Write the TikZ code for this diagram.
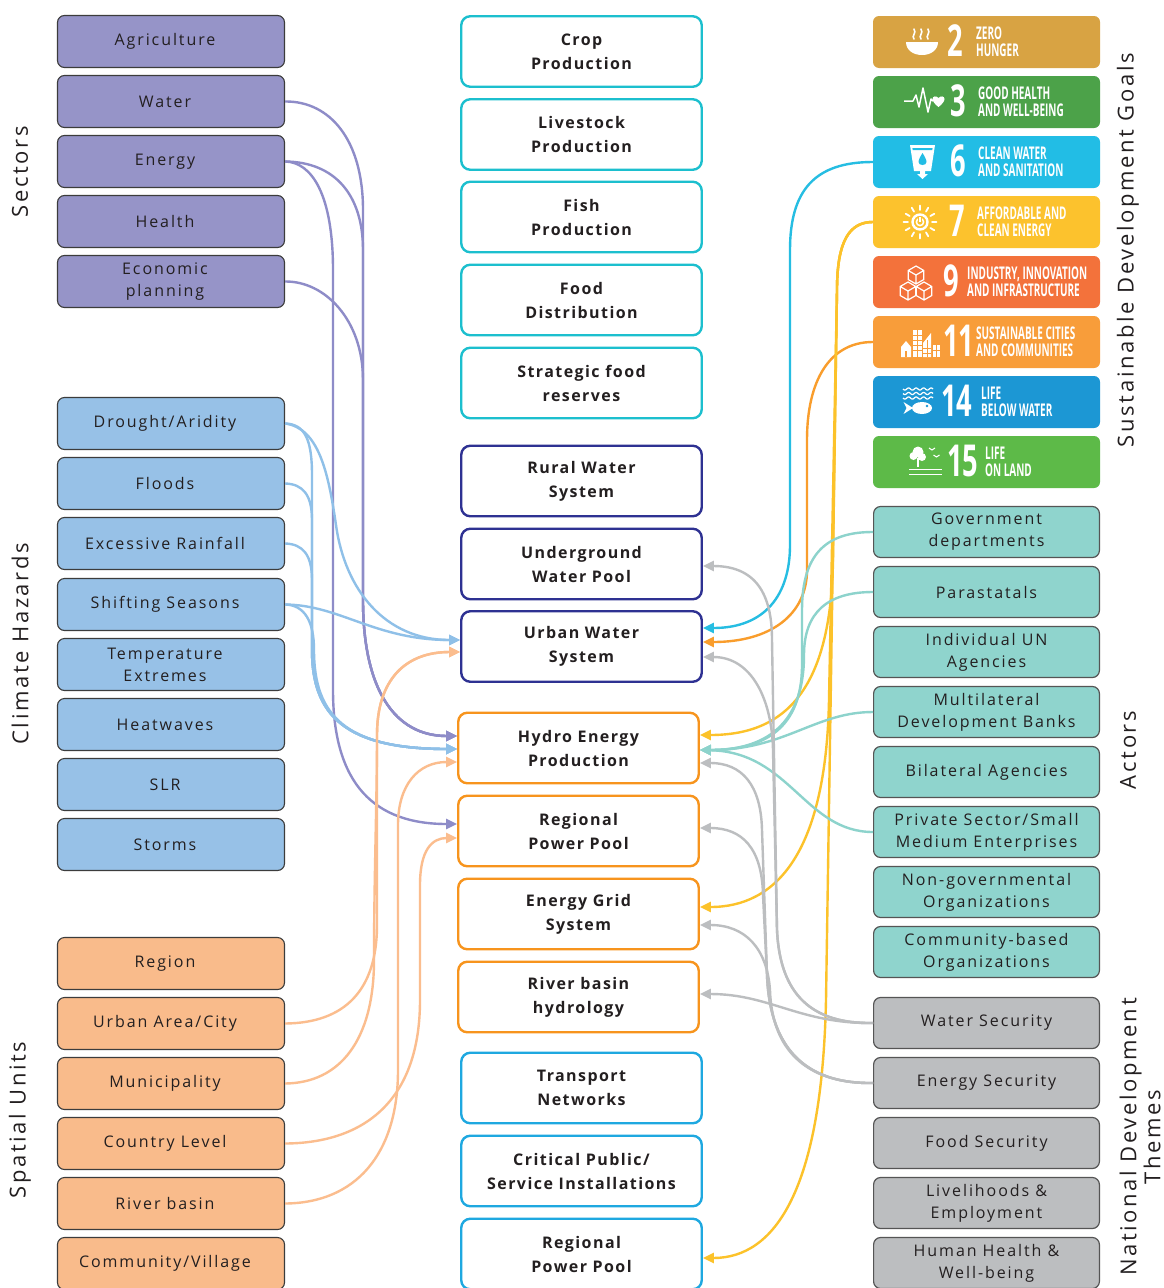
\documentclass[tikz,border=0pt]{standalone}
\usepackage{fontspec}
\setmainfont{Open Sans}[LetterSpace=12, BoldFeatures={LetterSpace=9}]
\newfontfamily\sdgf{Open Sans}
\usepackage{graphicx}
\usetikzlibrary{arrows.meta,calc}
\definecolor{txt}{HTML}{231F20}
\definecolor{edge}{HTML}{3C3C3C}
\definecolor{redge}{HTML}{555555}
\definecolor{sectc}{HTML}{9694C8}
\definecolor{hazc}{HTML}{97C1E7}
\definecolor{spatc}{HTML}{F9BB8B}
\definecolor{foodc}{HTML}{1CBFCE}
\definecolor{waterc}{HTML}{2E3192}
\definecolor{energyc}{HTML}{F7941D}
\definecolor{infrac}{HTML}{1EA8E0}
\definecolor{actc}{HTML}{8FD4CD}
\definecolor{themec}{HTML}{BCBEC0}
\definecolor{sdgtwoc}{HTML}{D8A343}
\definecolor{sdgthreec}{HTML}{4CA249}
\definecolor{sdgsixc}{HTML}{22BDE5}
\definecolor{sdgsevenc}{HTML}{FCC22D}
\definecolor{sdgninec}{HTML}{F3723B}
\definecolor{sdgelevenc}{HTML}{F89D3A}
\definecolor{sdgfourteenc}{HTML}{1C97D4}
\definecolor{sdgfifteenc}{HTML}{5DBA48}
\definecolor{lpurple}{HTML}{8E8CC8}
\definecolor{lblue}{HTML}{8FC0E8}
\definecolor{lorange}{HTML}{FBBD8E}
\definecolor{lsix}{HTML}{26BDE2}
\definecolor{leleven}{HTML}{F99D2C}
\definecolor{lseven}{HTML}{FCC22A}
\definecolor{lteal}{HTML}{8DD3CC}
\definecolor{lgray}{HTML}{BCBEC0}
\newcommand\lsh{\hspace*{-12pt}}
\newcommand\sdgt[1]{\scalebox{0.57}[1]{\sdgf\bfseries\fontsize{17.5}{17.5}\selectfont #1}}
\newcommand\sdgn[1]{\scalebox{0.62}[1]{\sdgf\bfseries\fontsize{44}{44}\selectfont #1}}
\begin{document}
\begin{tikzpicture}[x=1pt,y=-1pt,
  lbox/.style={rectangle, rounded corners=7pt, draw=edge, line width=1.1pt, minimum width=227pt, minimum height=52pt, inner sep=0pt, align=center, text=txt, font=\fontsize{16}{22}\selectfont},
  sector/.style={lbox, fill=sectc},
  hazard/.style={lbox, fill=hazc},
  spatial/.style={lbox, fill=spatc},
  mbox/.style={rectangle, rounded corners=9pt, line width=2.4pt, fill=white, minimum width=240.5pt, minimum height=70.5pt, inner sep=0pt, align=center, text=txt, font=\fontsize{16}{24}\selectfont\bfseries},
  foodbox/.style={mbox, draw=foodc},
  waterbox/.style={mbox, draw=waterc},
  energybox/.style={mbox, draw=energyc},
  infrabox/.style={mbox, draw=infrac},
  rbox/.style={rectangle, rounded corners=7pt, draw=redge, line width=1.2pt, minimum width=225.8pt, minimum height=51pt, inner sep=0pt, align=center, text=txt, font=\fontsize{16}{22}\selectfont},
  actor/.style={rbox, fill=actc},
  theme/.style={rbox, fill=themec},
  sdgbox/.style={rectangle, rounded corners=6pt, minimum width=227pt, minimum height=52pt, inner sep=0pt},
  sdglab/.style={anchor=base west, inner sep=0pt, text=white},
  side/.style={inner sep=0pt, text=txt, font=\fontsize{22}{24}\selectfont},
  conn/.style={line width=2.4pt, -{Triangle[length=11pt,width=10pt]}},
  cpurple/.style={conn, draw=lpurple},
  cblue/.style={conn, draw=lblue},
  corange/.style={conn, draw=lorange},
  csix/.style={conn, draw=lsix},
  celeven/.style={conn, draw=leleven},
  cseven/.style={conn, draw=lseven},
  cteal/.style={conn, draw=lteal},
  cgray/.style={conn, draw=lgray},
  icon/.style={white, line width=1.5pt},
  cubeicon/.pic={\draw[white, line width=1.2pt, line join=round] (0,-1) -- (0.87,-0.5) -- (0.87,0.5) -- (0,1) -- (-0.87,0.5) -- (-0.87,-0.5) -- cycle (-0.87,-0.5) -- (0,0) -- (0.87,-0.5) (0,0) -- (0,1);}
]
\fill[white] (0,0) rectangle (1163,1288);
\useasboundingbox (0,0) rectangle (1163,1288);

% side labels
\node[side, rotate=90] (lsect) at (20,172) {Sectors};
\node[side, rotate=90] (lhaz) at (20,644) {Climate Hazards};
\node[side, rotate=90] (lspat) at (20,1120) {Spatial Units};
\node[side, rotate=90] (lsdg) at (1128,250) {Sustainable Development Goals};
\node[side, rotate=90] (lact) at (1128,750) {Actors};
\node[side, rotate=90, align=center] (lndt) at (1140,1137) {National Development\\Themes};

% sectors
\node[sector] (agri) at (171,41.5) {\lsh Agriculture};
\node[sector] (water) at (171,101.5) {\lsh Water};
\node[sector] (energy) at (171,161.5) {\lsh Energy};
\node[sector] (health) at (171,221.5) {\lsh Health};
\node[sector] (econ) at (171,281.5) {\lsh Economic\\\lsh planning};
% hazards
\node[hazard] (drought) at (171,423.5) {\lsh Drought/Aridity};
\node[hazard] (floods) at (171,483.5) {\lsh Floods};
\node[hazard] (rain) at (171,543.5) {\lsh Excessive Rainfall};
\node[hazard] (shift) at (171,604.5) {\lsh Shifting Seasons};
\node[hazard] (temp) at (171,664.5) {\lsh Temperature\\\lsh Extremes};
\node[hazard] (heat) at (171,724.5) {\lsh Heatwaves};
\node[hazard] (slr) at (171,784.5) {\lsh SLR};
\node[hazard] (storms) at (171,844.5) {\lsh Storms};
% spatial
\node[spatial] (region) at (171,963.5) {\lsh Region};
\node[spatial] (urban) at (171,1023.5) {\lsh Urban Area/City};
\node[spatial] (muni) at (171,1083.5) {\lsh Municipality};
\node[spatial] (country) at (171,1143.5) {\lsh Country Level};
\node[spatial] (river) at (171,1203.5) {\lsh River basin};
\node[spatial] (village) at (171,1263.5) {\lsh Community/Village};

% middle
\node[foodbox] (crop) at (581.5,51.5) {Crop\\Production};
\node[foodbox] (livestock) at (581.5,134.5) {Livestock\\Production};
\node[foodbox] (fish) at (581.5,217) {Fish\\Production};
\node[foodbox] (fooddist) at (581.5,300) {Food\\Distribution};
\node[foodbox] (reserves) at (581.5,383) {Strategic food\\reserves};
\node[waterbox] (rural) at (581.5,481) {Rural Water\\System};
\node[waterbox] (under) at (581.5,564) {Underground\\Water Pool};
\node[waterbox] (uws) at (581.5,646.5) {Urban Water\\System};
\node[energybox] (hydro) at (578.5,748) {Hydro Energy\\Production};
\node[energybox] (rpp) at (578.5,831) {Regional\\Power Pool};
\node[energybox] (grid) at (578.5,914) {Energy Grid\\System};
\node[energybox] (rbh) at (578.5,997) {River basin\\hydrology};
\node[infrabox] (transport) at (581.5,1088) {Transport\\Networks};
\node[infrabox] (critical) at (581.5,1171) {Critical Public/\\Service Installations};
\node[infrabox] (rppb) at (581.5,1254) {Regional\\Power Pool};

% SDG boxes
\node[sdgbox, fill=sdgtwoc] (sdgtwo) at (986.5,42) {};
\node[sdgbox, fill=sdgthreec] (sdgthree) at (986.5,102) {};
\node[sdgbox, fill=sdgsixc] (sdgsix) at (986.5,162) {};
\node[sdgbox, fill=sdgsevenc] (sdgseven) at (986.5,222) {};
\node[sdgbox, fill=sdgninec] (sdgnine) at (986.5,282) {};
\node[sdgbox, fill=sdgelevenc] (sdgeleven) at (986.5,342) {};
\node[sdgbox, fill=sdgfourteenc] (sdgfourteen) at (986.5,402) {};
\node[sdgbox, fill=sdgfifteenc] (sdgfifteen) at (986.5,462) {};

\node[sdglab] (ntwo) at (947,56) {\sdgn{2}};
\node[sdglab] (ttwoa) at (976,39) {\sdgt{ZERO}};
\node[sdglab] (ttwob) at (976,56) {\sdgt{HUNGER}};
\node[sdglab] (nthree) at (950,116) {\sdgn{3}};
\node[sdglab] (tthreea) at (978,99) {\sdgt{GOOD HEALTH}};
\node[sdglab] (tthreeb) at (978,116) {\sdgt{AND WELL-BEING}};
\node[sdglab] (nsix) at (950,176) {\sdgn{6}};
\node[sdglab] (tsixa) at (978,159) {\sdgt{CLEAN WATER}};
\node[sdglab] (tsixb) at (978,176) {\sdgt{AND SANITATION}};
\node[sdglab] (nseven) at (949,236) {\sdgn{7}};
\node[sdglab] (tsevena) at (977,219) {\sdgt{AFFORDABLE AND}};
\node[sdglab] (tsevenb) at (977,236) {\sdgt{CLEAN ENERGY}};
\node[sdglab] (nnine) at (943,296) {\sdgn{9}};
\node[sdglab] (tninea) at (967,279) {\sdgt{INDUSTRY, INNOVATION}};
\node[sdglab] (tnineb) at (967,296) {\sdgt{AND INFRASTRUCTURE}};
\node[sdglab] (neleven) at (943,356) {\sdgn{11}};
\node[sdglab] (televena) at (976,339) {\sdgt{SUSTAINABLE CITIES}};
\node[sdglab] (televenb) at (976,356) {\sdgt{AND COMMUNITIES}};
\node[sdglab] (nfourteen) at (941,416) {\sdgn{14}};
\node[sdglab] (tfourteena) at (981,399) {\sdgt{LIFE}};
\node[sdglab] (tfourteenb) at (981,416) {\sdgt{BELOW WATER}};
\node[sdglab] (nfifteen) at (947,476) {\sdgn{15}};
\node[sdglab] (tfifteena) at (985,459) {\sdgt{LIFE}};
\node[sdglab] (tfifteenb) at (985,476) {\sdgt{ON LAND}};

% SDG icons
% 2 bowl
\fill[white] (906,42) -- (938,42) .. controls (938,50) and (931,55) .. (922,55) .. controls (913,55) and (906,50) .. (906,42) -- cycle;
\foreach \sx in {914,921,928} \draw[white, line width=1.6pt, line cap=round] (\sx,39) .. controls (\sx-3,36) and (\sx+3,33) .. (\sx,29);
% 3 heartbeat
\draw[icon, line join=round] (904,101) -- (913,101) -- (916,95) -- (919,107) -- (923,88) -- (928,112) -- (931,99) -- (933,101);
\fill[white] (938.5,107) .. controls (934.5,104) and (932.5,101) .. (932.5,99) .. controls (932.5,96) and (936.5,95.5) .. (938.5,98) .. controls (940.5,95.5) and (944.5,96) .. (944.5,99) .. controls (944.5,101) and (942.5,104) .. (938.5,107) -- cycle;
% 6 glass
\fill[white] (910,145) -- (935,145) -- (931,171) -- (914,171) -- cycle;
\fill[sdgsixc] (912.4,148) -- (932.6,148) -- (932.3,150) -- (912.7,150) -- cycle;
\fill[sdgsixc] (922.5,153) .. controls (920,157) and (918.5,160) .. (918.5,162) .. controls (918.5,166) and (926.5,166) .. (926.5,162) .. controls (926.5,160) and (925,157) .. (922.5,153) -- cycle;
\fill[white] (920,171) -- (925,171) -- (925,174) -- (928,174) -- (922.5,179) -- (917,174) -- (920,174) -- cycle;
% 7 sun
\draw[white, line width=2.4pt] (920,222) circle[radius=7.5pt];
\draw[white, line width=1.5pt] (920,222) circle[radius=3.6pt];
\draw[sdgsevenc, line width=3.5pt] (920,216.5) -- (920,219.8);
\draw[white, line width=1.5pt] (920,216.8) -- (920,222);
\foreach \a in {0,30,...,330} \draw[white, line width=1.8pt, line cap=round] ([shift={(920,222)}]\a:12) -- ([shift={(920,222)}]\a:16.5);
% 9 cubes
\pic[scale=9] at (916,275) {cubeicon};
\pic[scale=9] at (908,291) {cubeicon};
\pic[scale=9] at (924,291) {cubeicon};
% 11 buildings
\fill[white] (901,347) -- (906,341) -- (911,347) -- (911,357) -- (901,357) -- cycle;
\fill[white] (912.5,330) rectangle (921.5,357);
\fill[white] (923,357) -- (923,343) -- (931,333) -- (931,357) -- cycle;
\fill[white] (932.5,345) rectangle (940,357);
\foreach \wy in {335,340,345,350} \draw[sdgelevenc, line width=0.8pt] (912.5,\wy) -- (921.5,\wy);
\draw[sdgelevenc, line width=0.8pt] (917,330) -- (917,357) (927,340) -- (927,357) (923,348) -- (931,348) (923,353) -- (931,353) (932.5,350) -- (940,350) (936.2,345) -- (936.2,357);
\fill[sdgelevenc] (905,351) rectangle (907,357);
% 14 waves and fish
\foreach \wy in {389,393.5,398} {\draw[white, line width=1.2pt] plot[domain=0:30, samples=40, smooth] ({903+\x},{\wy+1.1*sin(\x*48)});}
\fill[white] (922,408) ellipse[x radius=10pt, y radius=6pt];
\fill[white] (913,408) -- (903.5,402) -- (906.5,408) -- (903.5,414) -- cycle;
\fill[sdgfourteenc] (927,406) circle[radius=1.3pt];
% 15 tree, birds, ground
\fill[white] (918,452) circle[radius=5.5pt];
\fill[white] (913.5,456) circle[radius=4pt];
\fill[white] (922,457) circle[radius=4pt];
\fill[white] (916.8,458) rectangle (918.6,467);
\draw[white, line width=1pt] (929,448) -- (932,450) -- (935,448) (933.5,455) -- (936.5,457) -- (939.5,455);
\draw[white, line width=1.6pt] (909,469.5) -- (942,469.5) (909,474.5) -- (942,474.5);

% actors
\node[actor] (gov) at (986.5,532) {Government\\departments};
\node[actor] (para) at (986.5,592) {Parastatals};
\node[actor] (unag) at (986.5,652) {Individual UN\\Agencies};
\node[actor] (mdb) at (986.5,712) {Multilateral\\Development Banks};
\node[actor] (bilat) at (986.5,772) {Bilateral Agencies};
\node[actor] (priv) at (986.5,832) {Private Sector/Small\\Medium Enterprises};
\node[actor] (ngo) at (986.5,892) {Non-governmental\\Organizations};
\node[actor] (cbo) at (986.5,952) {Community-based\\Organizations};
% themes
\node[theme] (wsec) at (986.5,1023) {Water Security};
\node[theme] (esec) at (986.5,1083) {Energy Security};
\node[theme] (fsec) at (986.5,1143) {Food Security};
\node[theme] (liveli) at (986.5,1203) {Livelihoods \&\\Employment};
\node[theme] (hhealth) at (986.5,1263) {Human Health \&\\Well-being};

% ---- connectors left ----
\draw[cpurple] (water.east) .. controls (330,101) and (363,140) .. (363,210) -- (363,600) .. controls (363,690) and (395,736) .. ($(hydro.west)+(0,-12)$);
\draw[cpurple] (energy.east) .. controls (335,162) and (363,195) .. (363,250) -- (363,600) .. controls (363,690) and (395,736) .. ($(hydro.west)+(0,-12)$);
\draw[cpurple] (econ.east) .. controls (325,281) and (363,320) .. (363,380) -- (363,600) .. controls (363,690) and (395,736) .. ($(hydro.west)+(0,-12)$);
\draw[cpurple] (energy.east) .. controls (312,162) and (333,195) .. (333,270) -- (333,690) .. controls (333,785) and (375,824) .. ($(rpp.west)+(0,-7)$);

\draw[cblue] (drought.east) .. controls (305,424) and (312,440) .. (312,475) -- (312,650) .. controls (312,715) and (345,749) .. ($(hydro.west)+(0,1)$);
\draw[cblue] (floods.east) .. controls (303,484) and (312,495) .. (312,520) -- (312,650) .. controls (312,715) and (345,749) .. ($(hydro.west)+(0,1)$);
\draw[cblue] (rain.east) .. controls (303,544) and (312,555) .. (312,580) -- (312,650) .. controls (312,715) and (345,749) .. ($(hydro.west)+(0,1)$);
\draw[cblue] (shift.east) .. controls (305,605) and (314,622) .. (314,650) .. controls (314,715) and (345,749) .. ($(hydro.west)+(0,1)$);
\draw[cblue] (drought.east) .. controls (318,428) and (328,470) .. (336,525) .. controls (345,590) and (385,640) .. ($(uws.west)+(0,-6.5)$);
\draw[cblue] (shift.east) .. controls (340,605) and (375,640) .. ($(uws.west)+(0,-6.5)$);

\draw[corange] (urban.east) .. controls (345,1023) and (377,990) .. (377,925) -- (377,735) .. controls (377,680) and (405,652) .. ($(uws.west)+(0,5.5)$);
\draw[corange] (muni.east) .. controls (340,1083) and (374,1040) .. (374,960) .. controls (374,880) and (377,800) .. (377,735) .. controls (377,680) and (405,652) .. ($(uws.west)+(0,5.5)$);
\draw[corange] (country.east) .. controls (365,1143) and (420,1100) .. (420,1000) -- (420,885) .. controls (420,850) and (432,838) .. ($(rpp.west)+(0,7)$);
\draw[corange] (river.east) .. controls (355,1203) and (398,1155) .. (398,1070) -- (398,825) .. controls (398,785) and (418,762) .. ($(hydro.west)+(0,14)$);

% ---- connectors right ----
\draw[csix] (sdgsix.west) .. controls (815,162) and (790,190) .. (790,250) -- (790,545) .. controls (790,595) and (765,628) .. ($(uws.east)+(0,-18.5)$);
\draw[celeven] (sdgeleven.west) .. controls (830,342) and (807,380) .. (807,440) -- (807,570) .. controls (807,615) and (770,642) .. ($(uws.east)+(0,-4.5)$);
\draw[cseven] (sdgseven.west) .. controls (850,222) and (837,240) .. (837,290) -- (833,560) .. controls (831,690) and (785,735) .. ($(hydro.east)+(0,-13)$);
\draw[cseven] (sdgseven.west) .. controls (850,222) and (837,240) .. (837,290) -- (829,700) .. controls (826,855) and (775,907) .. ($(grid.east)+(0,-7)$);
\draw[cseven] (sdgseven.west) .. controls (850,222) and (837,240) .. (837,290) -- (826,1000) .. controls (822,1190) and (775,1258) .. ($(rppb.east)+(0,4)$);

\draw[cteal] (gov.west) .. controls (830,532) and (802,550) .. (802,610) -- (802,665) .. controls (802,728) and (765,750) .. ($(hydro.east)+(0,2)$);
\draw[cteal] (para.west) .. controls (828,592) and (804,612) .. (804,655) .. controls (804,725) and (765,750) .. ($(hydro.east)+(0,2)$);
\draw[cteal] (mdb.west) .. controls (815,712) and (785,750) .. ($(hydro.east)+(0,2)$);
\draw[cteal] (priv.west) .. controls (805,832) and (790,752) .. ($(hydro.east)+(0,2)$);

\draw[cgray] (wsec.west) .. controls (812,1024) and (780,995) .. (777,930) -- (772,640) .. controls (772,600) and (760,566) .. ($(under.east)+(0,2)$);
\draw[cgray] (wsec.west) .. controls (812,1024) and (780,995) .. (777,930) -- (773,750) .. controls (772,700) and (752,657) .. ($(uws.east)+(0,10.5)$);
\draw[cgray] (wsec.west) .. controls (800,1024) and (770,994) .. ($(rbh.east)+(0,-3)$);
\draw[cgray] (esec.west) .. controls (812,1084) and (770,1055) .. (767,975) -- (762,830) .. controls (761,785) and (742,763) .. ($(hydro.east)+(0,15)$);
\draw[cgray] (esec.west) .. controls (812,1084) and (770,1055) .. (767,975) -- (763,895) .. controls (762,848) and (742,828) .. ($(rpp.east)+(0,-3)$);
\draw[cgray] (esec.west) .. controls (812,1084) and (772,1055) .. (770,990) .. controls (767,948) and (745,925) .. ($(grid.east)+(0,11)$);
\end{tikzpicture}
\end{document}
